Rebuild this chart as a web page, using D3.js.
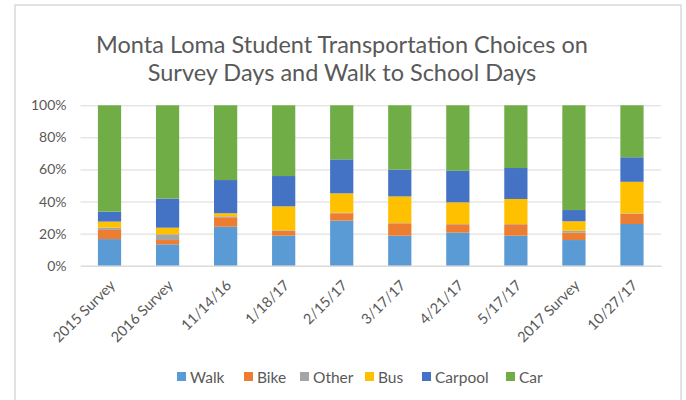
<!DOCTYPE html>
<html><head><meta charset="utf-8">
<script src="https://cdn.jsdelivr.net/npm/d3@7"></script>
<style>body{margin:0;background:#fff}svg{display:block}text{font-family:Lato,"Open Sans",sans-serif}</style>
</head><body><svg id="c" width="686" height="400"></svg>
<script>
const categories = ["2015 Survey","2016 Survey","11/14/16","1/18/17","2/15/17","3/17/17","4/21/17","5/17/17","2017 Survey","10/27/17"];
const seriesNames = ["Walk","Bike","Other","Bus","Carpool","Car"];
const colors = ["#5B9BD5","#ED7D31","#A5A5A5","#FFC000","#4472C4","#70AD47"];
const walk    = [16.6,13.3,24.3,18.7,28.1,18.7,20.6,18.7,16.0,26.0];
const bike    = [5.7, 2.7, 5.9, 3.1, 4.6, 7.7, 5.2, 7.1, 4.6, 6.4];
const other   = [1.4, 3.6, 0.6, 0.3, 0.3, 0.2, 0.2, 0.2, 1.2, 0.3];
const bus     = [3.8, 4.1, 1.9,14.9,12.1,16.6,13.5,15.6, 5.9,19.6];
const carpool = [6.2,18.1,20.7,18.9,21.2,16.7,19.7,19.3, 7.0,15.3];
const car     = [66.3,58.2,46.6,44.1,33.7,40.1,40.8,39.1,65.3,32.4];
const yTicks = [0,0.2,0.4,0.6,0.8,1];

const svg = d3.select("#c");
svg.append("rect").attr("x",15).attr("y",5).attr("width",666).attr("height",400).attr("fill","none").attr("stroke","#d9d9d9").attr("stroke-width",1.5);

const title = svg.append("text").attr("text-anchor","middle").attr("fill","#595959").attr("font-size",23.5);
title.append("tspan").attr("x",342).attr("y",53).text("Monta Loma Student Transportation Choices on");
title.append("tspan").attr("x",342).attr("y",81).text("Survey Days and Walk to School Days");

const x = d3.scaleBand().domain(categories).range([80.5,661]).paddingInner(0.6).paddingOuter(0.3);
const y = d3.scaleLinear().domain([0,1]).range([265.7,105.3]);

const rows = categories.map((c,i)=>{
  const vals=[walk[i],bike[i],other[i],bus[i],carpool[i],car[i]];
  const tot=d3.sum(vals);
  const o={cat:c};
  seriesNames.forEach((s,j)=>o[s]=vals[j]/tot);
  return o;
});
const stack = d3.stack().keys(seriesNames)(rows);

const yAxis = d3.axisLeft(y).tickValues(yTicks).tickFormat(d3.format(".0%")).tickSize(-580.5).tickPadding(14);
const ga = svg.append("g").attr("transform","translate(80.5,0)").call(yAxis);
ga.select(".domain").remove();
ga.selectAll(".tick line").attr("stroke","#d9d9d9").attr("stroke-width",1);
ga.selectAll(".tick text").attr("fill","#595959").attr("font-size",14);

const cr = svg.append("g");
stack.forEach((layer,j)=>{
  cr.append("g").attr("fill",colors[j]).selectAll("rect").data(layer).join("rect")
    .attr("x",d=>x(d.data.cat)).attr("width",x.bandwidth())
    .attr("y",d=>y(d[1])).attr("height",d=>y(d[0])-y(d[1]));
});

const xa = svg.append("g").attr("transform","translate(0,265.7)").call(d3.axisBottom(x).tickSize(0));
xa.select(".domain").attr("stroke","#d9d9d9");
xa.selectAll(".tick text").attr("fill","#595959").attr("font-size",14.5)
  .attr("text-anchor","end").attr("dy","0.35em").attr("y",0)
  .attr("transform","translate(3,17) rotate(-45)");

const legX = [177,244,300,365,422,506];
const lg = svg.append("g");
seriesNames.forEach((s,j)=>{
  lg.append("rect").attr("x",legX[j]).attr("y",372).attr("width",9).attr("height",9).attr("fill",colors[j]);
  lg.append("text").attr("x",legX[j]+13).attr("y",382.5).attr("fill","#595959").attr("font-size",15.5).text(s);
});
</script></body></html>
